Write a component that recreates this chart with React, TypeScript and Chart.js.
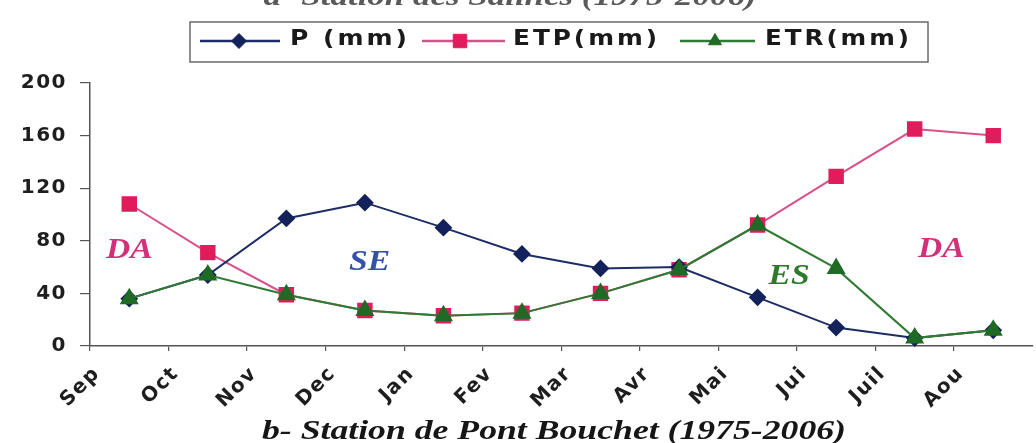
import { useEffect, useRef } from 'react';
import { Chart, registerables } from 'chart.js';

Chart.register(...registerables);

// ---- data ----
const months = ['Sep', 'Oct', 'Nov', 'Dec', 'Jan', 'Fev', 'Mar', 'Avr', 'Mai', 'Jui', 'Juil', 'Aou'];
const pValues = [36, 54, 97, 109, 90, 70, 59, 60, 37, 14, 6, 12];
const etpValues = [108, 71, 39, 27, 23, 25, 40, 58, 92, 129, 165, 160];
const etrValues = [36, 54, 39, 27, 23, 25, 40, 58, 92, 59, 6, 12];
const seriesLabels = ['P (mm)', 'ETP(mm)', 'ETR(mm)'];
const zoneLabels = ['DA', 'SE', 'ES', 'DA'];
const zoneX = [0.5, 3.56, 8.9, 10.84];
const zoneY = [73, 64, 53, 73.5];
const yMin = 0;
const yMax = 200;
const yStep = 40;
const titleText = 'b- Station de Pont Bouchet (1975-2006)';
const topTitleText = 'a- Station des Salines (1975-2006)';

// ---- styles ----
const P_LINE = '#1c2c66';
const P_POINT = '#13225a';
const ETP_LINE = '#d8508a';
const ETP_POINT = '#e11c5c';
const ETR_LINE = '#2f7b33';
const ETR_POINT = '#1f6a25';
const zoneColors = ['#d3307a', '#3352a8', '#2d7a2d', '#d3307a'];

const SANS = "'DejaVu Sans', 'Liberation Sans', sans-serif";
const SERIF = "'Liberation Serif', 'DejaVu Serif', serif";

function drawMarker(ctx: CanvasRenderingContext2D, style: string, x: number, y: number, r: number, color: string) {
  ctx.save();
  ctx.fillStyle = color;
  ctx.strokeStyle = color;
  ctx.lineWidth = 1;
  ctx.beginPath();
  if (style === 'rectRot') {
    ctx.moveTo(x, y - r);
    ctx.lineTo(x + r, y);
    ctx.lineTo(x, y + r);
    ctx.lineTo(x - r, y);
    ctx.closePath();
  } else if (style === 'rect') {
    const s = r * Math.SQRT1_2;
    ctx.rect(x - s, y - s, 2 * s, 2 * s);
  } else {
    ctx.moveTo(x, y - r);
    ctx.lineTo(x + r * 0.866, y + r * 0.5);
    ctx.lineTo(x - r * 0.866, y + r * 0.5);
    ctx.closePath();
  }
  ctx.fill();
  ctx.stroke();
  ctx.restore();
}

function drawStretched(
  ctx: CanvasRenderingContext2D,
  text: string,
  x: number,
  y: number,
  width: number,
  color: string,
  align: 'left' | 'center',
) {
  const w = ctx.measureText(text).width;
  ctx.save();
  ctx.translate(x, y);
  ctx.scale(width / w, 1);
  ctx.fillStyle = color;
  ctx.textAlign = align;
  ctx.fillText(text, 0, 0);
  ctx.restore();
}

const decorPlugin = {
  id: 'decor',
  beforeDraw(chart: any) {
    (chart.ctx as any).letterSpacing = '1.5px';
  },
  afterDraw(chart: any) {
    const ctx: CanvasRenderingContext2D = chart.ctx;
    const xs = chart.scales.x;
    const ys = chart.scales.y;
    ctx.save();
    (ctx as any).letterSpacing = '0px';

    // zone annotations
    ctx.font = `italic bold 30px ${SERIF}`;
    ctx.textBaseline = 'middle';
    zoneLabels.forEach((t, i) => {
      const w = ctx.measureText(t).width * 1.12;
      drawStretched(ctx, t, xs.getPixelForValue(zoneX[i]), ys.getPixelForValue(zoneY[i]), w, zoneColors[i], 'center');
    });

    // legend
    const boxL = 190, boxT = 22, boxW = 738, boxH = 40;
    ctx.strokeStyle = '#6a6a6a';
    ctx.lineWidth = 1.5;
    ctx.strokeRect(boxL, boxT, boxW, boxH);
    const items = [
      { x1: 200, x2: 280, mx: 239, tx: 290, tw: 120 },
      { x1: 422, x2: 505, mx: 460, tx: 513, tw: 147 },
      { x1: 680, x2: 755, mx: 715, tx: 765, tw: 147 },
    ];
    const ly = 41;
    chart.data.datasets.forEach((ds: any, i: number) => {
      const it = items[i];
      ctx.strokeStyle = ds.borderColor;
      ctx.lineWidth = 2.5;
      ctx.beginPath();
      ctx.moveTo(it.x1, ly);
      ctx.lineTo(it.x2, ly);
      ctx.stroke();
      drawMarker(ctx, ds.pointStyle, it.mx, ly, ds.pointStyle === 'rect' ? 9.5 : 7.5, ds.pointBackgroundColor);
      (ctx as any).letterSpacing = '2.5px';
      ctx.font = `bold 21px ${SANS}`;
      ctx.textBaseline = 'middle';
      drawStretched(ctx, ds.label, it.tx, 40, it.tw, '#1a1a1a', 'left');
      (ctx as any).letterSpacing = '0px';
    });

    // titles (stretched horizontally like the scanned figure)
    ctx.font = `italic bold 27px ${SERIF}`;
    ctx.textBaseline = 'alphabetic';
    drawStretched(ctx, titleText, 554, 439, 584, '#161616', 'center');
    drawStretched(ctx, topTitleText, 510, 5, 493, '#5a5a5a', 'center');

    ctx.restore();
    (ctx as any).letterSpacing = '0px';
  },
};

export default function App() {
  const ref = useRef<HTMLCanvasElement | null>(null);

  useEffect(() => {
    if (!ref.current) return;
    const toPts = (arr: number[]) => arr.map((v, i) => ({ x: i + 0.5, y: v }));
    const chart = new Chart(ref.current, {
      type: 'line',
      data: {
        datasets: [
          {
            label: seriesLabels[0],
            data: toPts(pValues),
            borderColor: P_LINE,
            backgroundColor: P_POINT,
            pointBackgroundColor: P_POINT,
            pointBorderColor: P_POINT,
            pointStyle: 'rectRot',
            pointRadius: 7.5,
            borderWidth: 2,
            order: 1,
            clip: false,
          },
          {
            label: seriesLabels[1],
            data: toPts(etpValues),
            borderColor: ETP_LINE,
            backgroundColor: ETP_POINT,
            pointBackgroundColor: ETP_POINT,
            pointBorderColor: ETP_POINT,
            pointStyle: 'rect',
            pointRadius: 9.5,
            borderWidth: 2,
            order: 2,
            clip: false,
          },
          {
            label: seriesLabels[2],
            data: toPts(etrValues),
            borderColor: ETR_LINE,
            backgroundColor: ETR_POINT,
            pointBackgroundColor: ETR_POINT,
            pointBorderColor: ETR_POINT,
            pointStyle: 'triangle',
            pointRadius: 9,
            borderWidth: 2,
            order: 0,
            clip: false,
          },
        ] as any,
      },
      options: {
        animation: false,
        responsive: true,
        maintainAspectRatio: false,
        layout: { padding: { top: 83, left: 0, right: 0, bottom: 0 } },
        plugins: {
          legend: { display: false },
          title: { display: false },
          tooltip: { enabled: false },
        },
        scales: {
          x: {
            type: 'linear',
            min: 0,
            max: months.length,
            afterBuildTicks: (s: any) => {
              s.ticks = s.ticks.filter((t: any) => Number.isInteger(t.value) && t.value < months.length);
            },
            afterFit: (s: any) => {
              s.height = 97;
            },
            ticks: {
              stepSize: 1,
              autoSkip: false,
              minRotation: 45,
              maxRotation: 45,
              labelOffset: 7,
              padding: 11,
              color: '#1e1e1e',
              font: { family: SANS, size: 20, weight: 'bold' },
              callback: (v: any) => months[v] ?? '',
            },
            grid: { drawOnChartArea: false, drawTicks: true, tickLength: 5, color: '#555', lineWidth: 1.2 },
            border: { display: true, color: '#555', width: 1.5 },
          },
          y: {
            type: 'linear',
            min: yMin,
            max: yMax,
            afterFit: (s: any) => {
              s.width = 90;
            },
            ticks: {
              stepSize: yStep,
              padding: 13,
              color: '#1e1e1e',
              font: { family: SANS, size: 20, weight: 'bold' },
            },
            grid: { drawOnChartArea: false, drawTicks: true, tickLength: 10, color: '#555', lineWidth: 1.2 },
            border: { display: true, color: '#555', width: 1.5 },
          },
        },
      } as any,
      plugins: [decorPlugin],
    });
    return () => chart.destroy();
  }, []);

  return (
    <div style={{ position: 'absolute', left: 0, top: 0, width: 1036, height: 443, overflow: 'hidden', background: '#fff' }}>
      <div style={{ position: 'relative', width: 1044, height: 443 }}>
        <canvas ref={ref} />
      </div>
    </div>
  );
}
